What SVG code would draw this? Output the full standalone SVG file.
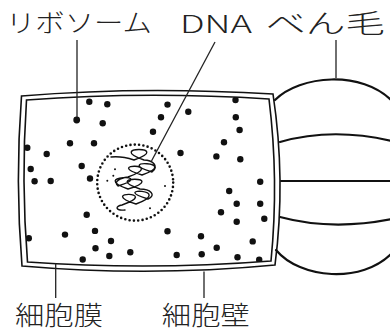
<svg xmlns="http://www.w3.org/2000/svg" width="390" height="331" viewBox="0 0 390 331">
  <style>
    .label { font-family: "Noto Sans CJK JP", "Noto Sans", sans-serif; font-weight: 300; fill: #222; }
    .wall { fill: none; stroke: #111; stroke-width: 1.6; stroke-linejoin: miter; }
    .flag { fill: none; stroke: #111; stroke-width: 2.2; stroke-linecap: round; }
    .lead { fill: none; stroke: #222; stroke-width: 1.3; }
    .rib { fill: #111; }
    .speck { fill: #111; }
    .dna { fill: none; stroke: #111; stroke-width: 1.4; stroke-linejoin: round; stroke-linecap: round; }
  </style>
  <defs>
    <clipPath id="cytoplasm">
      <path d="M26.5,100 Q145,91 269,99 Q279,180 271,261 Q150,270.5 27.5,262 Q21,181 26.5,100 Z"/>
    </clipPath>
  </defs>

  <rect width="390" height="331" fill="#fff"/>

  <!-- flagellum bundle to the right of the cell -->
  <g id="flagellum">
    <path class="flag" d="M275,100 C300,75 362,70 392,101"/>
    <path class="flag" d="M280,142 Q332,127 392,141"/>
    <path class="flag" d="M281,181 L392,181"/>
    <path class="flag" d="M280,217 Q332,231 392,219"/>
    <path class="flag" d="M276,250 C300,279 362,284 392,253"/>
  </g>

  <!-- cell wall (outer outline) -->
  <g id="cell-wall">
    <path class="wall" fill="#fff" d="M21.5,96 Q140,86 273,94 Q286,180 275,265 Q150,277 22,266 Q15,181 21.5,96 Z"/>
  </g>

  <!-- cell membrane (inner outline) -->
  <g id="cell-membrane">
    <path class="wall" d="M26.5,100 Q145,91 269,99 Q279,180 271,261 Q150,270.5 27.5,262 Q21,181 26.5,100 Z"/>
  </g>

  <!-- ribosomes scattered through the cytoplasm -->
  <g id="ribosomes" clip-path="url(#cytoplasm)">
    <circle class="rib" cx="89.3" cy="101.7" r="3.2"/>
    <circle class="rib" cx="107.3" cy="104.3" r="3.2"/>
    <circle class="rib" cx="76.7" cy="120" r="3.4"/>
    <circle class="rib" cx="102.7" cy="123.3" r="3.2"/>
    <circle class="rib" cx="167.5" cy="104.6" r="3.2"/>
    <circle class="rib" cx="188.3" cy="111.7" r="3.2"/>
    <circle class="rib" cx="161" cy="117.3" r="3.2"/>
    <circle class="rib" cx="153" cy="131.7" r="3.2"/>
    <circle class="rib" cx="70" cy="143.3" r="3.2"/>
    <circle class="rib" cx="94" cy="143.3" r="3.2"/>
    <circle class="rib" cx="27.3" cy="147.7" r="3.2"/>
    <circle class="rib" cx="46.7" cy="154" r="3.2"/>
    <circle class="rib" cx="180.5" cy="153" r="3.2"/>
    <circle class="rib" cx="81.7" cy="166" r="3.2"/>
    <circle class="rib" cx="30.7" cy="169" r="3.2"/>
    <circle class="rib" cx="90" cy="178.5" r="3.2"/>
    <circle class="rib" cx="34.6" cy="181.3" r="3.2"/>
    <circle class="rib" cx="50.7" cy="181" r="3.2"/>
    <circle class="rib" cx="86.7" cy="214.7" r="3.2"/>
    <circle class="rib" cx="65" cy="234.6" r="3.2"/>
    <circle class="rib" cx="95" cy="230.9" r="3.2"/>
    <circle class="rib" cx="28.8" cy="238.3" r="3.2"/>
    <circle class="rib" cx="167.5" cy="231.3" r="3.2"/>
    <circle class="rib" cx="111" cy="241" r="3.2"/>
    <circle class="rib" cx="95.5" cy="248.3" r="3.2"/>
    <circle class="rib" cx="130.3" cy="252.3" r="3.2"/>
    <circle class="rib" cx="109.3" cy="256" r="3.2"/>
    <circle class="rib" cx="82.7" cy="259.5" r="3.2"/>
    <circle class="rib" cx="176.7" cy="255" r="3.2"/>
    <circle class="rib" cx="201" cy="236.3" r="3.2"/>
    <circle class="rib" cx="235.5" cy="100" r="3.2"/>
    <circle class="rib" cx="235.8" cy="117.3" r="3.2"/>
    <circle class="rib" cx="239.6" cy="130" r="3.2"/>
    <circle class="rib" cx="224" cy="142.3" r="3.2"/>
    <circle class="rib" cx="216.4" cy="156.4" r="3.2"/>
    <circle class="rib" cx="240.3" cy="159.2" r="3.2"/>
    <circle class="rib" cx="260.2" cy="181.8" r="3.2"/>
    <circle class="rib" cx="229.2" cy="191" r="3.2"/>
    <circle class="rib" cx="236.7" cy="203.8" r="3.2"/>
    <circle class="rib" cx="260.2" cy="203.8" r="3.2"/>
    <circle class="rib" cx="221" cy="212.2" r="3.2"/>
    <circle class="rib" cx="264.3" cy="218.8" r="3.2"/>
    <circle class="rib" cx="236.7" cy="221.7" r="3.2"/>
    <circle class="rib" cx="252.7" cy="241.4" r="3.2"/>
    <circle class="rib" cx="216.7" cy="247.7" r="3.2"/>
    <circle class="rib" cx="201.7" cy="254.3" r="3.2"/>
    <circle class="rib" cx="237.5" cy="257.2" r="3.2"/>
    <circle class="rib" cx="259.2" cy="259.7" r="3.2"/>
  </g>

  <!-- nucleoid: dotted boundary with coiled DNA strand -->
  <g id="nucleoid">
    <circle cx="135.2" cy="182.6" r="38" fill="none" stroke="#111" stroke-width="2.6" stroke-linecap="round" stroke-dasharray="0 4.35"/>
    <path class="dna"
      d="M111,157 C120,156 128,158 134,160
         C174,146 104,146 144,160
         C152,160 160,166 152,172
         C112,160 182,161 142,175
         C102,163 168,163 128,177
         C120,178 113,182 118,186
         C158,174 88,175 128,189
         C170,176 100,176 140,189
         C150,189 157,195 148,199
         C108,187 176,189 136,204
         C96,191 162,191 122,205
         C115,206 115,211 125,210"/>
    <circle class="speck" cx="107.3" cy="180.7" r="1"/>
    <circle class="speck" cx="115" cy="169.3" r="1"/>
    <circle class="speck" cx="113.3" cy="175.7" r="1"/>
    <circle class="speck" cx="165" cy="186" r="1"/>
    <circle class="speck" cx="150" cy="208.3" r="1"/>
  </g>

  <!-- leader lines from labels -->
  <g id="connectors">
    <line class="lead" x1="77" y1="40" x2="77" y2="117"/>
    <line class="lead" x1="215" y1="42" x2="151.5" y2="161"/>
    <line class="lead" x1="336" y1="40" x2="336" y2="78"/>
    <line class="lead" x1="55.7" y1="263.5" x2="55.7" y2="298"/>
    <line class="lead" x1="204" y1="271.5" x2="204" y2="298"/>
  </g>

  <!-- labels (wide-set lettering) -->
  <g id="label-ribosome"><text class="label" x="6" y="31.8" font-size="25" textLength="146" lengthAdjust="spacingAndGlyphs">リボソーム</text></g>
  <g id="label-dna"><text class="label" x="180" y="33.3" font-size="25" textLength="72" lengthAdjust="spacingAndGlyphs">DNA</text></g>
  <g id="label-flagellum"><text class="label" x="266" y="33" font-size="26" textLength="119" lengthAdjust="spacingAndGlyphs">べん毛</text></g>
  <g id="label-membrane"><text class="label" x="15" y="324.7" font-size="25.7" textLength="88" lengthAdjust="spacingAndGlyphs">細胞膜</text></g>
  <g id="label-wall"><text class="label" x="161.8" y="324.7" font-size="25.7" textLength="88" lengthAdjust="spacingAndGlyphs">細胞壁</text></g>
</svg>
